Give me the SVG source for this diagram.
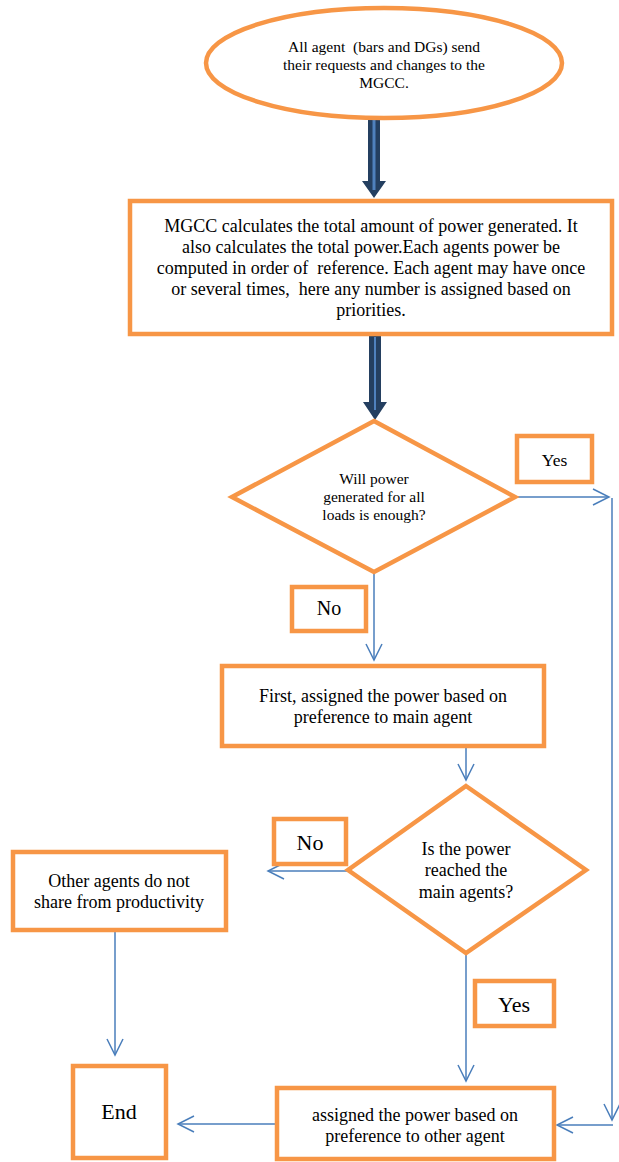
<svg xmlns="http://www.w3.org/2000/svg" width="619" height="1162" viewBox="0 0 619 1162">
<style>
.nd{fill:#ffffff;stroke:#F79646;stroke-width:4.5}
.t{font-family:"Liberation Serif","Times New Roman",serif;fill:#000000;text-anchor:middle}
.c{fill:none;stroke:#4A7EBB;stroke-width:1.5}
.big{fill:#243F60}
.inner{stroke:#4F81BD;stroke-width:3;fill:none}
</style>
<defs>
<marker id="ah" viewBox="-18 -10 20 20" refX="0" refY="0" markerWidth="20" markerHeight="20" markerUnits="userSpaceOnUse" orient="auto">
<path d="M-16,-8 L0,0 L-16,8" fill="none" stroke="#4A7EBB" stroke-width="1.5"/>
</marker>
</defs>
<rect x="0" y="0" width="619" height="1162" fill="#ffffff"/>
<g id="connectors">
<polygon class="big" points="368,117 380,117 380,181 386,181 374,198 362,181 368,181"/>
<line class="inner" x1="374" y1="120" x2="374" y2="190"/>
<polygon class="big" points="369,335 381,335 381,402 387,402 375,420 363,402 369,402"/>
<line class="inner" x1="375" y1="337" x2="375" y2="410" style="stroke-width:2"/>
<line class="c" x1="515" y1="497" x2="609" y2="497" marker-end="url(#ah)"/>
<line class="c" x1="612" y1="498" x2="612" y2="1120" marker-end="url(#ah)"/>
<line class="c" x1="613" y1="1125" x2="557" y2="1125" marker-end="url(#ah)"/>
<line class="c" x1="374" y1="572" x2="374" y2="660" marker-end="url(#ah)"/>
<line class="c" x1="466" y1="748" x2="466" y2="780" marker-end="url(#ah)"/>
<line class="c" x1="348" y1="871" x2="268" y2="871" marker-end="url(#ah)"/>
<line class="c" x1="115" y1="931" x2="115" y2="1055" marker-end="url(#ah)"/>
<line class="c" x1="466" y1="953" x2="466" y2="1081" marker-end="url(#ah)"/>
<line class="c" x1="275" y1="1124" x2="178" y2="1124" marker-end="url(#ah)"/>
</g>
<g id="start">
<ellipse class="nd" cx="384" cy="63" rx="178" ry="55"/>
<text class="t" font-size="15.5" xml:space="preserve"><tspan x="384" y="52">All agent  (bars and DGs) send</tspan><tspan x="384" y="70">their requests and changes to the</tspan><tspan x="384" y="88">MGCC.</tspan></text>
</g>
<g id="calc">
<rect class="nd" x="130" y="201" width="482" height="133"/>
<text class="t" font-size="18" xml:space="preserve"><tspan x="371" y="232">MGCC calculates the total amount of power generated. It</tspan><tspan x="371" y="253">also calculates the total power.Each agents power be</tspan><tspan x="371" y="274">computed in order of  reference. Each agent may have once</tspan><tspan x="371" y="295">or several times,  here any number is assigned based on</tspan><tspan x="371" y="316">priorities.</tspan></text>
</g>
<g id="decision1">
<polygon class="nd" points="374,421 515,497 374,572 232,497"/>
<text class="t" font-size="15.5"><tspan x="374" y="484">Will power</tspan><tspan x="374" y="502">generated for all</tspan><tspan x="374" y="520">loads is enough?</tspan></text>
</g>
<g id="yes1">
<rect class="nd" x="517" y="436" width="75" height="46"/>
<text class="t" font-size="17.5" x="554.5" y="466">Yes</text>
</g>
<g id="no1">
<rect class="nd" x="292" y="587" width="74" height="44"/>
<text class="t" font-size="20" x="329" y="615">No</text>
</g>
<g id="assignMain">
<rect class="nd" x="222" y="666" width="322" height="80"/>
<text class="t" font-size="18"><tspan x="383" y="702">First, assigned the power based on</tspan><tspan x="383" y="723">preference to main agent</tspan></text>
</g>
<g id="decision2">
<polygon class="nd" points="466,786 586,870 466,953 348,870"/>
<text class="t" font-size="18"><tspan x="466" y="855">Is the power</tspan><tspan x="466" y="876">reached the</tspan><tspan x="466" y="898">main agents?</tspan></text>
</g>
<g id="no2">
<rect class="nd" x="274" y="819" width="72" height="45"/>
<text class="t" font-size="22" x="310" y="850">No</text>
</g>
<g id="noShare">
<rect class="nd" x="13" y="852" width="213" height="78"/>
<text class="t" font-size="18"><tspan x="119" y="887">Other agents do not</tspan><tspan x="119" y="908">share from productivity</tspan></text>
</g>
<g id="end">
<rect class="nd" x="73" y="1066" width="93" height="92"/>
<text class="t" font-size="22" x="119" y="1119">End</text>
</g>
<g id="yes2">
<rect class="nd" x="475" y="981" width="79" height="45"/>
<text class="t" font-size="22" x="514" y="1012">Yes</text>
</g>
<g id="assignOther">
<rect class="nd" x="277" y="1088" width="277" height="71"/>
<text class="t" font-size="18"><tspan x="415" y="1121">assigned the power based on</tspan><tspan x="415" y="1142">preference to other agent</tspan></text>
</g>
</svg>
